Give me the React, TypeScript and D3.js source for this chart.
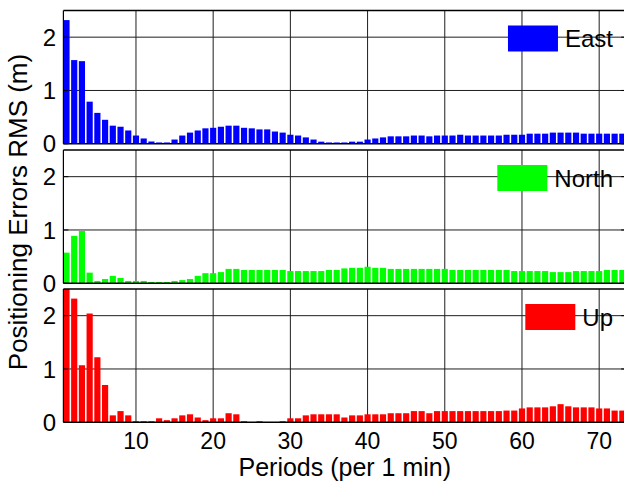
import * as d3 from "d3";
import { useEffect, useRef } from "react";

// periods 1..73
const periods: number[] = d3.range(1, 74);

const eastRms: number[] = [
  2.32, 1.57, 1.55, 0.79, 0.58, 0.45, 0.34, 0.32, 0.25, 0.155,
  0.10, 0.043, 0.025, 0.025, 0.08, 0.155, 0.21, 0.25, 0.29, 0.30,
  0.32, 0.34, 0.34, 0.30, 0.29, 0.27, 0.27, 0.23, 0.21, 0.17,
  0.155, 0.12, 0.08, 0.04, 0.025, 0.025, 0.025, 0.04, 0.04, 0.08,
  0.10, 0.12, 0.14, 0.14, 0.14, 0.155, 0.155, 0.14, 0.155, 0.155,
  0.155, 0.17, 0.155, 0.155, 0.155, 0.155, 0.155, 0.17, 0.17, 0.17,
  0.19, 0.19, 0.19, 0.21, 0.21, 0.21, 0.21, 0.19, 0.19, 0.19,
  0.19, 0.19, 0.19,
];

const northRms: number[] = [
  0.575, 0.89, 0.98, 0.20, 0.044, 0.08, 0.14, 0.10, 0.044, 0.044,
  0.044, 0.025, 0.025, 0.025, 0.044, 0.06, 0.08, 0.14, 0.19, 0.19,
  0.21, 0.27, 0.27, 0.25, 0.25, 0.25, 0.25, 0.25, 0.25, 0.23,
  0.23, 0.23, 0.23, 0.23, 0.25, 0.25, 0.28, 0.29, 0.29, 0.31,
  0.29, 0.29, 0.27, 0.27, 0.27, 0.27, 0.27, 0.27, 0.27, 0.27,
  0.25, 0.25, 0.25, 0.25, 0.25, 0.25, 0.25, 0.25, 0.23, 0.23,
  0.23, 0.23, 0.23, 0.21, 0.21, 0.21, 0.23, 0.23, 0.23, 0.23,
  0.25, 0.25, 0.25,
];

const upRms: number[] = [
  2.6, 2.32, 1.07, 2.04, 1.22, 0.70, 0.13, 0.21, 0.13, 0.02,
  0.02, 0.02, 0.075, 0.04, 0.075, 0.13, 0.15, 0.09, 0.04, 0.075,
  0.075, 0.17, 0.15, 0.02, 0.005, 0.02, 0.005, 0.005, 0.02, 0.075,
  0.075, 0.13, 0.15, 0.15, 0.15, 0.15, 0.09, 0.13, 0.13, 0.15,
  0.15, 0.15, 0.17, 0.17, 0.17, 0.21, 0.21, 0.17, 0.21, 0.21,
  0.21, 0.21, 0.21, 0.21, 0.21, 0.21, 0.21, 0.22, 0.22, 0.26,
  0.28, 0.28, 0.28, 0.30, 0.34, 0.30, 0.28, 0.28, 0.28, 0.26,
  0.26, 0.22, 0.22,
];

const seriesNames = ["East", "North", "Up"];
const seriesColors = ["#0000ff", "#00ff00", "#ff0000"];
const seriesValues = [eastRms, northRms, upRms];

const xTicks = [10, 20, 30, 40, 50, 60, 70];
const yTicks = [0, 1, 2];

const App = () => {
  const chartRef = useRef<SVGSVGElement>(null);

  const width = 624;
  const height = 484;

  // размеры области графиков
  const margin = { left: 63.4, right: 626.2 };
  const panelTops = [10.5, 150, 289];
  const panelHeight = 133.3;
  const font = "'Liberation Sans', Arial, sans-serif";

  useEffect(() => {
    const svg = d3.select(chartRef.current);
    svg.selectAll("*").remove();

    const x = d3.scaleLinear().domain([0.6, 73.5]).range([margin.left, margin.right]);
    const barW = x(0.8) - x(0);

    seriesValues.forEach((values, k) => {
      const top = panelTops[k];
      const y = d3.scaleLinear().domain([0, 2.5]).range([top + panelHeight, top]);
      const g = svg.append("g");

      const clipId = `clip-${k}`;
      svg.append("clipPath").attr("id", clipId)
        .append("rect")
        .attr("x", margin.left).attr("y", top)
        .attr("width", margin.right - margin.left).attr("height", panelHeight);

      // белый фон
      g.append("rect")
        .attr("x", margin.left).attr("y", top)
        .attr("width", margin.right - margin.left).attr("height", panelHeight)
        .attr("fill", "white");

      // сетка
      g.selectAll(".vgrid").data(xTicks).enter().append("line")
        .attr("x1", d => x(d)).attr("x2", d => x(d))
        .attr("y1", top).attr("y2", top + panelHeight)
        .attr("stroke", "#1e1e1e").attr("stroke-width", 1);
      g.selectAll(".hgrid").data(yTicks.filter(d => d > 0)).enter().append("line")
        .attr("x1", margin.left).attr("x2", margin.right)
        .attr("y1", d => y(d)).attr("y2", d => y(d))
        .attr("stroke", "#1e1e1e").attr("stroke-width", 1);

      // столбцы
      g.append("g").attr("clip-path", `url(#${clipId})`)
        .selectAll("rect").data(periods).enter().append("rect")
        .attr("x", (d) => x(d) - barW / 2)
        .attr("y", (d, i) => y(values[i]))
        .attr("width", barW)
        .attr("height", (d, i) => y(0) - y(values[i]))
        .attr("fill", seriesColors[k]);

      // рамка осей
      g.append("line")
        .attr("x1", margin.left).attr("x2", margin.right)
        .attr("y1", top).attr("y2", top)
        .attr("stroke", "#000").attr("stroke-width", 1.5);
      g.append("line")
        .attr("x1", margin.left).attr("x2", margin.right)
        .attr("y1", y(0)).attr("y2", y(0))
        .attr("stroke", "#000").attr("stroke-width", 1.5);
      g.append("line")
        .attr("x1", margin.left).attr("x2", margin.left)
        .attr("y1", top).attr("y2", top + panelHeight)
        .attr("stroke", "#000").attr("stroke-width", 1.2);
      g.append("line")
        .attr("x1", margin.right).attr("x2", margin.right)
        .attr("y1", top).attr("y2", top + panelHeight)
        .attr("stroke", "#000").attr("stroke-width", 1.2);

      // засечки
      g.selectAll(".ltick").data(yTicks).enter().append("line")
        .attr("x1", margin.left).attr("x2", margin.left + 5)
        .attr("y1", d => y(d)).attr("y2", d => y(d))
        .attr("stroke", "#000");
      g.selectAll(".rtick").data(yTicks).enter().append("line")
        .attr("x1", margin.right - 5).attr("x2", margin.right)
        .attr("y1", d => y(d)).attr("y2", d => y(d))
        .attr("stroke", "#000");

      // подписи оси Y
      g.selectAll(".ylab").data(yTicks).enter().append("text")
        .attr("x", 56).attr("y", d => y(d) + 8.6)
        .attr("text-anchor", "end")
        .style("font-family", font).style("font-size", "24px")
        .text(d => d);

      // легенда
      const legendY = top + 28;
      const txt = g.append("text")
        .attr("x", 613).attr("y", legendY + 8.6)
        .attr("text-anchor", "end")
        .style("font-family", font).style("font-size", "24px")
        .text(seriesNames[k]);
      const tw = (txt.node() as SVGTextElement).getComputedTextLength();
      g.append("rect")
        .attr("x", 613 - tw - 7 - 50).attr("y", legendY - 13)
        .attr("width", 50).attr("height", 26)
        .attr("fill", seriesColors[k]);

      // подписи оси X только для нижней панели
      if (k === seriesValues.length - 1) {
        g.selectAll(".xlab").data(xTicks).enter().append("text")
          .attr("x", d => x(d)).attr("y", y(0) + 27)
          .attr("text-anchor", "middle")
          .style("font-family", font).style("font-size", "23px")
          .text(d => d);
      }
    });

    svg.append("text")
      .attr("x", (margin.left + margin.right) / 2).attr("y", 476)
      .attr("text-anchor", "middle")
      .style("font-family", font).style("font-size", "25px")
      .text("Periods (per 1 min)");

    svg.append("text")
      .attr("transform", "translate(27, 212) rotate(-90)")
      .attr("text-anchor", "middle")
      .style("font-family", font).style("font-size", "26px")
      .text("Positioning Errors RMS (m)");
  }, []);

  return (
    <svg
      ref={chartRef}
      width={width}
      height={height}
      style={{ position: "absolute", left: 0, top: 0, background: "white" }}
    ></svg>
  );
};

export default App;
